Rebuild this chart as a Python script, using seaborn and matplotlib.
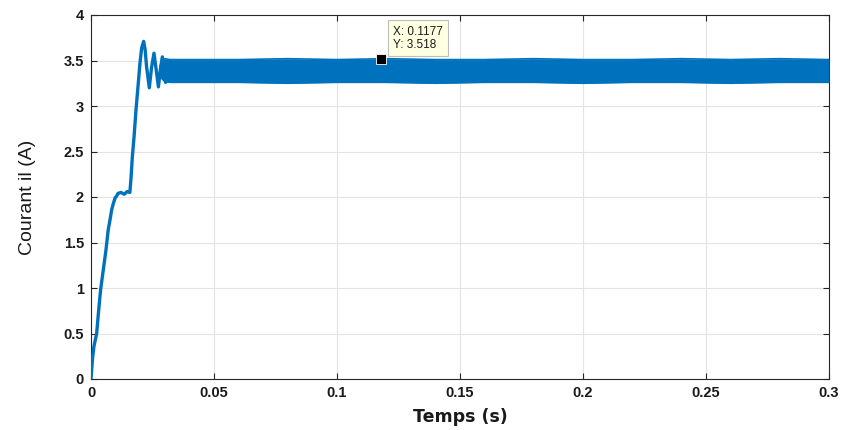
import numpy as np
import pandas as pd
import matplotlib
matplotlib.use("Agg")
import matplotlib.pyplot as plt
import seaborn as sns

# ---- data ----
# start-up transient of the current (s, A)
t_trans = [0.0, 0.0006, 0.0012, 0.0023, 0.0030, 0.0039, 0.0050, 0.0061, 0.0070,
           0.0078, 0.0084, 0.0091, 0.0098, 0.0104, 0.0110, 0.0122, 0.0135,
           0.0147, 0.0158, 0.0163, 0.0168, 0.0175, 0.0183, 0.0190, 0.0199,
           0.0206, 0.0214, 0.0220, 0.0226, 0.0237, 0.0246, 0.0256, 0.0265,
           0.0274, 0.0282, 0.0290, 0.0297, 0.0303]
i_trans = [0.0, 0.22, 0.36, 0.50, 0.72, 0.98, 1.20, 1.42, 1.64,
           1.76, 1.86, 1.93, 1.99, 2.01, 2.04, 2.05, 2.03,
           2.06, 2.05, 2.22, 2.44, 2.66, 2.96, 3.18, 3.47,
           3.64, 3.71, 3.62, 3.43, 3.20, 3.42, 3.58, 3.40,
           3.21, 3.40, 3.54, 3.40, 3.26]

# steady-state ripple band: envelope of the oscillation (s, A)
t_band = [0.0280, 0.0300, 0.0320, 0.040, 0.060, 0.080, 0.100, 0.120, 0.140,
          0.160, 0.180, 0.200, 0.220, 0.240, 0.260, 0.280, 0.300]
i_upper = [3.44, 3.52, 3.51, 3.51, 3.51, 3.52, 3.51, 3.52, 3.51,
           3.51, 3.52, 3.51, 3.51, 3.52, 3.51, 3.52, 3.51]
i_lower = [3.32, 3.27, 3.26, 3.26, 3.26, 3.25, 3.26, 3.26, 3.25,
           3.26, 3.26, 3.25, 3.26, 3.26, 3.25, 3.26, 3.26]

x_ticks = [0, 0.05, 0.1, 0.15, 0.2, 0.25, 0.3]
x_tick_labels = ["0", "0.05", "0.1", "0.15", "0.2", "0.25", "0.3"]
y_ticks = [0, 0.5, 1, 1.5, 2, 2.5, 3, 3.5, 4]
y_tick_labels = ["0", "0.5", "1", "1.5", "2", "2.5", "3", "3.5", "4"]

tip_x, tip_y = 0.1177, 3.518
tip_text = "X: 0.1177\nY: 3.518"

# ---- style ----
sns.set_theme(style="white")
plt.rcParams["font.family"] = ["Liberation Sans", "DejaVu Sans"]

BLUE = "#0072BD"
AX = "#262626"

fig = plt.figure(figsize=(8.46, 4.30), dpi=100)
ax = fig.add_axes([91 / 846, 1 - 379 / 430, (829 - 91) / 846, (379 - 15) / 430])

df = pd.DataFrame({"t": t_trans, "i": i_trans})
sns.lineplot(data=df, x="t", y="i", ax=ax, color=BLUE, linewidth=2.4,
             estimator=None, sort=False, zorder=3)
ax.fill_between(t_band, i_lower, i_upper, color=BLUE, linewidth=0, zorder=3)
ax.plot(t_band, i_upper, color=BLUE, lw=1.2, zorder=3)
ax.plot(t_band, i_lower, color=BLUE, lw=1.2, zorder=3)

ax.set_xlim(0, 0.3)
ax.set_ylim(0, 4)
ax.set_xticks(x_ticks)
ax.set_xticklabels(x_tick_labels)
ax.set_yticks(y_ticks)
ax.set_yticklabels(y_tick_labels)
ax.grid(True, color="#E3E3E3", linewidth=0.8, zorder=0)
ax.set_axisbelow(True)

for s in ax.spines.values():
    s.set_visible(True)
    s.set_color(AX)
    s.set_linewidth(0.8)

ax.tick_params(axis="both", which="both", direction="in", length=4.5, width=0.8,
               colors=AX, top=True, right=True, bottom=True, left=True,
               labelsize=10.5, pad=5)
for lab in ax.get_xticklabels() + ax.get_yticklabels():
    lab.set_fontweight("bold")
    lab.set_color("#1a1a1a")

ax.set_xlabel("Temps (s)", fontsize=12.5, fontweight="bold", color="#1a1a1a",
              labelpad=6, family=["DejaVu Sans"])
ax.set_ylabel("Courant il (A)", fontsize=14, color="#1a1a1a", labelpad=20)

# data tip
ax.plot([tip_x], [tip_y], marker="s", markersize=6.5, color="black",
        markeredgecolor="white", markeredgewidth=0.6, zorder=5, linestyle="none")
ax.annotate(tip_text, xy=(tip_x, tip_y), xytext=(9, 6), textcoords="offset points",
            ha="left", va="bottom", fontsize=8.5, color="#1a1a1a", linespacing=1.1,
            bbox=dict(boxstyle="square,pad=0.45", fc="#FFFFE1", ec="#BDBDBD", lw=0.8),
            zorder=6)

fig.savefig("out.png", dpi=100)
